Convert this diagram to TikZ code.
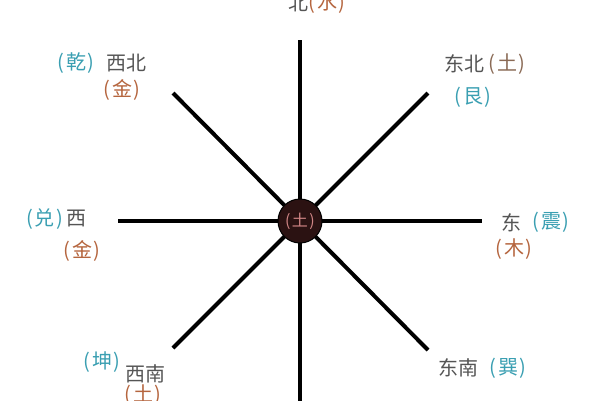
\documentclass[tikz,border=0pt]{standalone}
\usepackage{fontspec}
\setmainfont{Noto Sans CJK SC}
\definecolor{txtgray}{HTML}{555555}
\definecolor{txtcyan}{HTML}{3A9FB2}
\definecolor{txtorange}{HTML}{B5653E}
\definecolor{txtbrown}{HTML}{8A6A55}
\definecolor{hubfill}{HTML}{2B1212}
\definecolor{hubtext}{HTML}{D08585}
\newcommand{\pr}[1]{(\kern1.5pt#1\kern1.5pt)}
\tikzset{
  spoke/.style={line width=4pt, black},
  lbl/.style={inner sep=0pt, font=\fontsize{20}{20}\selectfont},
  gry/.style={lbl, text=txtgray},
  cyn/.style={lbl, text=txtcyan},
  org/.style={lbl, text=txtorange},
  brn/.style={lbl, text=txtbrown},
}
\begin{document}
\begin{tikzpicture}[x=1pt,y=-1pt]
\useasboundingbox[fill=white] (0,0) rectangle (600,400);
% spoke ends
\coordinate (N) at (300,40);
\coordinate (S) at (300,402);
\coordinate (W) at (118,221);
\coordinate (E) at (482,221);
\coordinate (NW) at (173,93);
\coordinate (SE) at (428,350);
\coordinate (NE) at (428,93);
\coordinate (SW) at (173,348);
\draw[spoke] (N) -- (S);
\draw[spoke] (W) -- (E);
\draw[spoke] (NW) -- (SE);
\draw[spoke] (NE) -- (SW);
% hub
\node[circle, fill=hubfill, draw=black, line width=1pt, minimum size=44pt, inner sep=0pt,
      text=hubtext, font=\fontsize{16}{16}\selectfont] (hub) at (300,221) {\pr{土}};
% north
\node[gry] (nA) at (298,3) {北};
\node[org] (nB) at (327,3) {\pr{水}};
% north-west
\node[cyn] (nwA) at (76,63) {\pr{乾}};
\node[gry] (nwB) at (126,63) {西北};
\node[org] (nwC) at (122,90) {\pr{金}};
% north-east
\node[gry] (neA) at (464,64) {东北};
\node[brn] (neB) at (507,64) {\pr{土}};
\node[cyn] (neC) at (473,97) {\pr{艮}};
% west
\node[cyn] (wA) at (45,219) {\pr{兑}};
\node[gry] (wB) at (76,219) {西};
\node[org] (wC) at (82,251) {\pr{金}};
% east
\node[gry] (eA) at (511,223) {东};
\node[cyn] (eB) at (551,222) {\pr{震}};
\node[org] (eC) at (514,249) {\pr{木}};
% south-west
\node[cyn] (swA) at (102,362) {\pr{坤}};
\node[gry] (swB) at (145,374) {西南};
\node[org] (swC) at (143,395) {\pr{土}};
% south-east
\node[gry] (seA) at (458,368) {东南};
\node[cyn] (seB) at (508,368) {\pr{巽}};
\end{tikzpicture}
\end{document}
